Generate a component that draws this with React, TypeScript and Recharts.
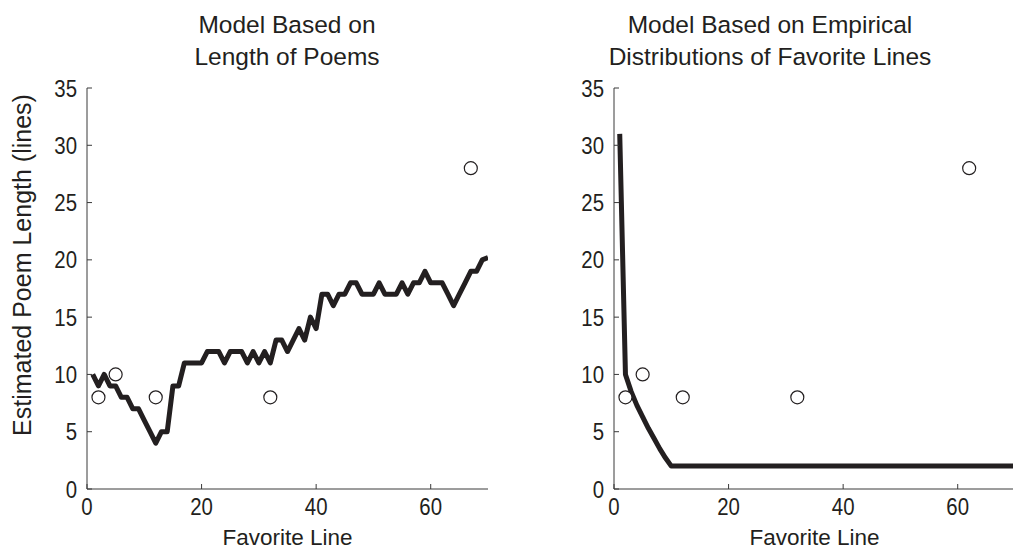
import { ComposedChart, Line, Scatter, XAxis, YAxis } from 'recharts';

// favorite line positions (1..70)
const favoriteLine = [
  1, 2, 3, 4, 5, 6, 7, 8, 9, 10, 11, 12, 13, 14, 15, 16, 17, 18, 19, 20,
  21, 22, 23, 24, 25, 26, 27, 28, 29, 30, 31, 32, 33, 34, 35, 36, 37, 38, 39, 40,
  41, 42, 43, 44, 45, 46, 47, 48, 49, 50, 51, 52, 53, 54, 55, 56, 57, 58, 59, 60,
  61, 62, 63, 64, 65, 66, 67, 68, 69, 70,
];

// model 1: based on length of poems
const lengthModel = [
  10, 9, 10, 9, 9, 8, 8, 7, 7, 6, 5, 4, 5, 5, 9, 9, 11, 11, 11, 11,
  12, 12, 12, 11, 12, 12, 12, 11, 12, 11, 12, 11, 13, 13, 12, 13, 14, 13, 15, 14,
  17, 17, 16, 17, 17, 18, 18, 17, 17, 17, 18, 17, 17, 17, 18, 17, 18, 18, 19, 18,
  18, 18, 17, 16, 17, 18, 19, 19, 20, 20.2,
];

// model 2: based on empirical distributions of favorite lines
const empiricalModel = [
  31, 10, 8.5, 7.3, 6.3, 5.3, 4.4, 3.5, 2.7, 2, 2, 2, 2, 2, 2, 2, 2, 2, 2, 2,
  2, 2, 2, 2, 2, 2, 2, 2, 2, 2, 2, 2, 2, 2, 2, 2, 2, 2, 2, 2,
  2, 2, 2, 2, 2, 2, 2, 2, 2, 2, 2, 2, 2, 2, 2, 2, 2, 2, 2, 2,
  2, 2, 2, 2, 2, 2, 2, 2, 2, 2,
];

// observed poems
const obsLineLeft = [2, 5, 12, 32, 67];
const obsLineRight = [2, 5, 12, 32, 62];
const obsLength = [8, 10, 8, 8, 28];

const xTicks = [0, 20, 40, 60];
const yTicks = [0, 5, 10, 15, 20, 25, 30, 35];

const INK = '#231f20';
const AXIS = '#3a3a3a';
const FONT = "'Liberation Sans', Arial, sans-serif";

const leftLineData = favoriteLine.map((x, i) => ({ x, y: lengthModel[i] }));
const rightLineData = favoriteLine.map((x, i) => ({ x, y: empiricalModel[i] }));
const leftObs = obsLineLeft.map((x, i) => ({ x, y: obsLength[i] }));
const rightObs = obsLineRight.map((x, i) => ({ x, y: obsLength[i] }));

function OpenCircle(props: any) {
  const { cx, cy } = props;
  return <circle cx={cx} cy={cy} r={6.5} fill="#fff" stroke={INK} strokeWidth={1.2} />;
}

// condensed-looking tick labels
function XTick(props: any) {
  const { x, y, payload } = props;
  return (
    <text transform={`translate(${x},${y + 17}) scale(0.85,1)`} textAnchor="middle" fill={INK} fontSize={24} fontFamily={FONT}>
      {payload.value}
    </text>
  );
}

function YTick(props: any) {
  const { x, y, payload } = props;
  return (
    <text transform={`translate(${x},${y + 8.5}) scale(0.85,1)`} textAnchor="end" fill={INK} fontSize={24} fontFamily={FONT}>
      {payload.value}
    </text>
  );
}

function Panel({ left, lineData, obsData }: { left: number; lineData: any[]; obsData: any[] }) {
  return (
    <div style={{ position: 'absolute', left, top: 0 }}>
      <ComposedChart width={510} height={552} margin={{ top: 88, right: 22, bottom: 0, left: 27 }}>
        <XAxis
          type="number"
          dataKey="x"
          domain={[0, 70]}
          ticks={xTicks}
          allowDataOverflow
          height={63}
          stroke={AXIS}
          tickSize={-5}
          tickMargin={14}
          tick={<XTick />}
          label={{ value: 'Favorite Line', position: 'insideBottom', offset: 7, fill: INK, fontSize: 22.5, fontFamily: FONT }}
        />
        <YAxis
          type="number"
          domain={[0, 35]}
          ticks={yTicks}
          allowDataOverflow
          width={60}
          stroke={AXIS}
          tickSize={-5}
          tickMargin={15}
          tick={<YTick />}
        />
        <Line
          data={lineData}
          dataKey="y"
          type="linear"
          stroke={INK}
          strokeWidth={5}
          strokeLinejoin="round"
          dot={false}
          activeDot={false}
          isAnimationActive={false}
        />
        <Scatter data={obsData} dataKey="y" shape={<OpenCircle />} isAnimationActive={false} />
      </ComposedChart>
    </div>
  );
}

export default function App() {
  return (
    <div style={{ position: 'absolute', left: 0, top: 0, width: 1013, height: 552, overflow: 'hidden', background: '#fff' }}>
      <Panel left={0} lineData={leftLineData} obsData={leftObs} />
      <Panel left={527} lineData={rightLineData} obsData={rightObs} />
      <svg width={1013} height={552} style={{ position: 'absolute', left: 0, top: 0, pointerEvents: 'none' }}>
        <g fill={INK} fontFamily={FONT} fontSize={24.5} textAnchor="middle">
          <text x={287} y={33}>Model Based on</text>
          <text x={287} y={65}>Length of Poems</text>
          <text x={770} y={33}>Model Based on Empirical</text>
          <text x={770} y={65}>Distributions of Favorite Lines</text>
        </g>
        <text
          transform="translate(31,265) rotate(-90)"
          fill={INK}
          fontFamily={FONT}
          fontSize={25}
          textAnchor="middle"
        >
          Estimated Poem Length (lines)
        </text>
      </svg>
    </div>
  );
}
